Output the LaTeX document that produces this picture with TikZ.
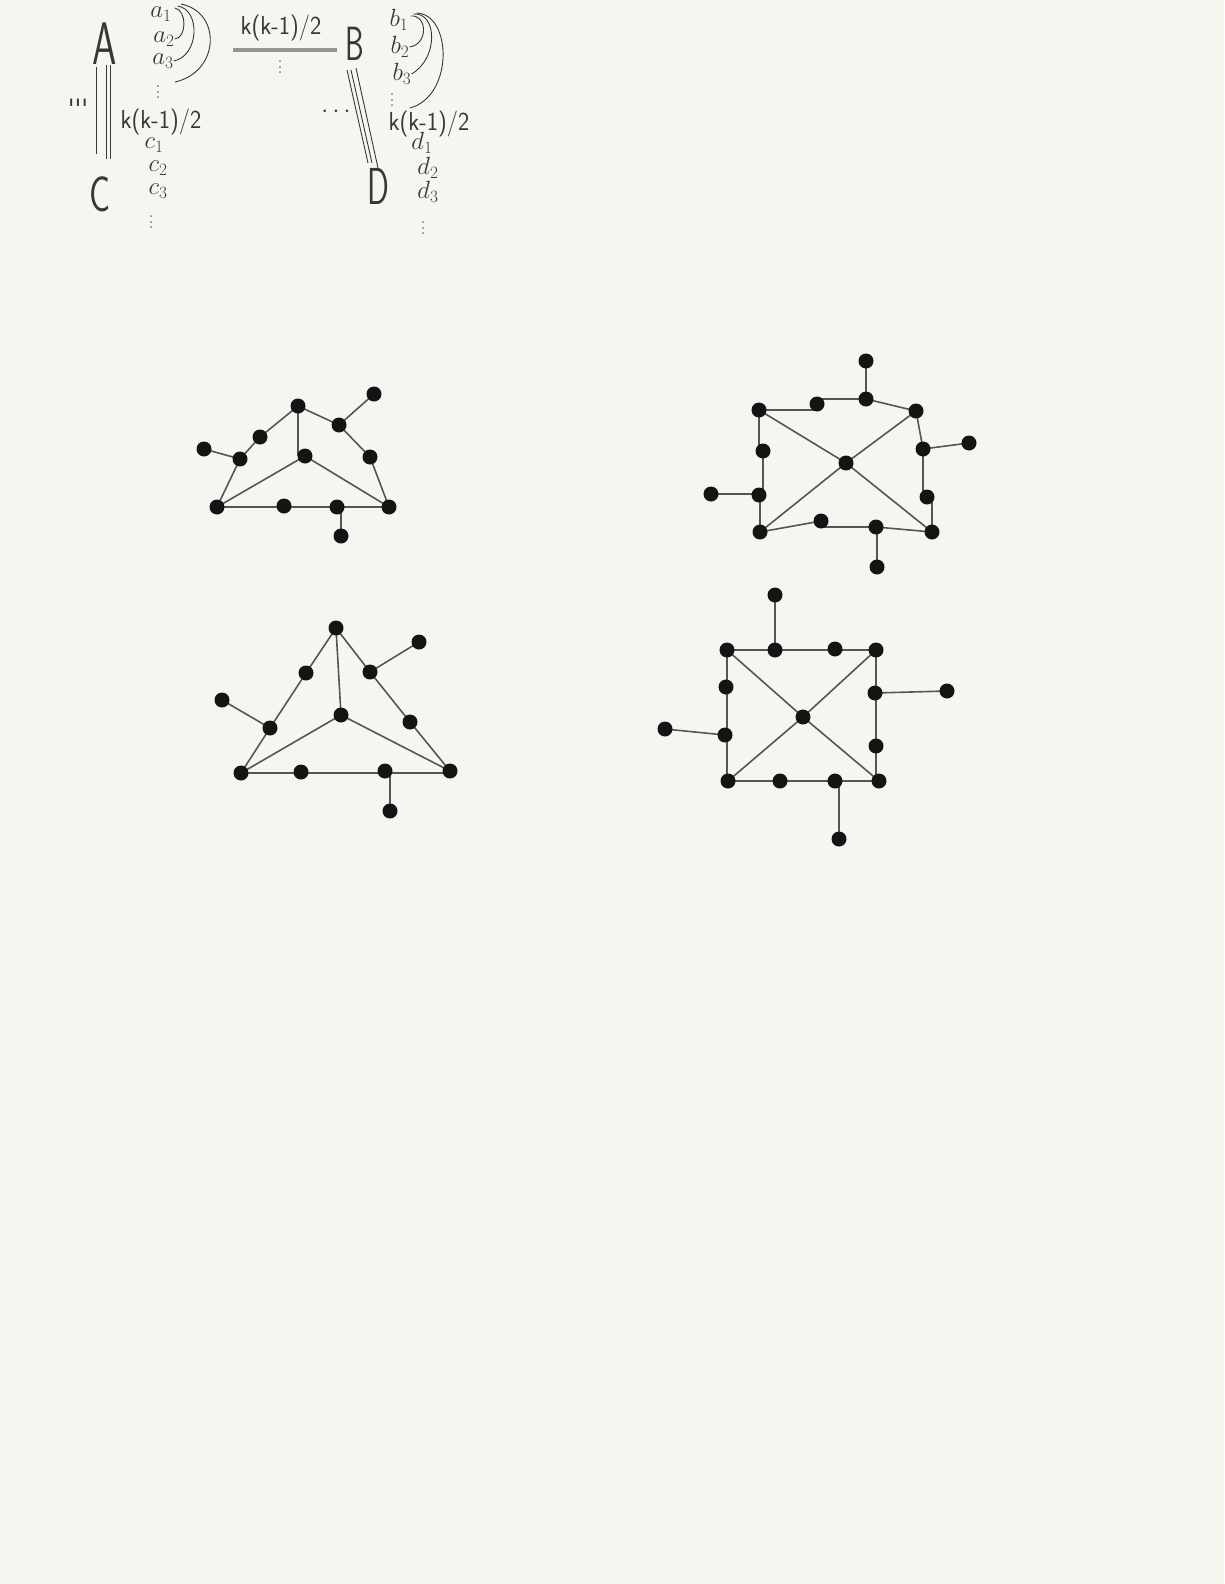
\documentclass[tikz,border=0pt]{standalone}
\usepackage{fontspec}
\definecolor{bg}{RGB}{246,246,241}
\definecolor{ink}{RGB}{55,55,55}
\definecolor{edgec}{RGB}{85,85,85}
\definecolor{dotc}{RGB}{20,20,20}
\definecolor{barc}{RGB}{150,150,145}
\pgfdeclarelayer{edges}
\pgfsetlayers{edges,main}
\begin{document}
\begin{tikzpicture}[x=1pt,y=-1pt,
  v/.style={circle,fill=dotc,inner sep=0pt,minimum size=15pt},
  e/.style={draw=edgec,line width=1.6pt},
  hw/.style={text=ink,inner sep=0pt,font=\sffamily},
  pen/.style={draw=ink,line width=0.9pt},
  big/.style={hw,font=\sffamily\fontsize{#1}{#1}\selectfont},
  lbl/.style={hw,font=\sffamily\fontsize{26}{26}\selectfont,xscale=0.92},
  sub/.style={text=ink,inner sep=0pt,font=\fontsize{23}{23}\selectfont},
  vd/.style={text=ink,inner sep=0pt,font=\fontsize{16}{16}\selectfont,yscale=1.4}]
\begin{pgfonlayer}{edges}
\fill[bg] (0,0) rectangle (1224,1584);
\end{pgfonlayer}
\useasboundingbox (0,0) rectangle (1224,1584);

% ---------------- handwritten sketch ----------------
\node[big=60,xscale=0.65] (A) at (105,44) {A};
\node[big=48,xscale=0.62] (B) at (355,44) {B};
\node[big=50,xscale=0.7] (C) at (100,194) {C};
\node[big=52,xscale=0.62] (D) at (378,186) {D};

\node[sub] (a1) at (161,14) {$a_1$};
\node[sub] (a2) at (164,39) {$a_2$};
\node[sub] (a3) at (163,61) {$a_3$};
\node[vd] (adots) at (158,88) {$\vdots$};
\node[sub] (b1) at (399,20) {$b_1$};
\node[sub] (b2) at (400,47) {$b_2$};
\node[sub] (b3) at (402,74) {$b_3$};
\node[vd] (bdots) at (392,96) {$\vdots$};
\node[sub] (c1) at (154,145) {$c_1$};
\node[sub] (c2) at (158,168) {$c_2$};
\node[sub] (c3) at (158,191) {$c_3$};
\node[vd] (cdots) at (151,218) {$\vdots$};
\node[sub] (d1) at (422,143) {$d_1$};
\node[sub] (d2) at (428,168) {$d_2$};
\node[sub] (d3) at (428,192) {$d_3$};
\node[vd] (ddots) at (423,224) {$\vdots$};

\node[lbl] (kab) at (281,28) {k(k-1)/2};
\node[lbl] (kac) at (161,122) {k(k-1)/2};
\node[lbl] (kbd) at (429,124) {k(k-1)/2};
\node[vd] (mdots) at (280,63) {$\vdots$};
\node[hw,font=\sffamily\fontsize{26}{26}\selectfont] (ticks) at (78,108) {\textquotesingle\textquotesingle\textquotesingle};
\node[sub] (hdots) at (336,112) {$\cdots$};

% arcs a
\draw[pen] (a1.east) ++(3,-6) .. controls (187,10) and (187,38) .. (a2.east);
\draw[pen] (a1.east) ++(6,-8) .. controls (201,10) and (199,56) .. (a3.east);
\draw[pen] (a1.east) ++(9,-10) .. controls (222,12) and (220,72) .. (175,82);
% arcs b
\draw[pen] (b1.east) ++(2,-4) .. controls (427,14) and (429,44) .. (b2.east);
\draw[pen] (b1.east) ++(5,-6) .. controls (437,12) and (439,58) .. (b3.east);
\draw[pen] (b1.east) ++(8,-7) .. controls (452,14) and (454,96) .. (410,108);

% A -- C triple line
\coordinate (ac1t) at (96,67); \coordinate (ac1b) at (96,154);
\coordinate (ac2t) at (106,65); \coordinate (ac2b) at (106,159);
\coordinate (ac3t) at (110,65); \coordinate (ac3b) at (110,159);
\draw[pen] (ac1t) -- (ac1b);
\draw[pen] (ac2t) -- (ac2b);
\draw[pen] (ac3t) -- (ac3b);
% B -- D triple line
\coordinate (bd1t) at (347,70); \coordinate (bd1b) at (368,163);
\coordinate (bd2t) at (351,70); \coordinate (bd2b) at (372,163);
\coordinate (bd3t) at (356,68); \coordinate (bd3b) at (378,168);
\draw[pen] (bd1t) -- (bd1b);
\draw[pen] (bd2t) -- (bd2b);
\draw[pen] (bd3t) -- (bd3b);
% A -- B thick bar
\coordinate (barl) at (233,50); \coordinate (barr) at (337,50);
\draw[barc,line width=4pt] (barl) -- (barr);

% ---------------- graph 1 ----------------
\node[v] (g1t) at (298,406) {};
\node[v] (g1tl) at (374,394) {};
\node[v] (g1r1) at (339,425) {};
\node[v] (g1r2) at (370,457) {};
\node[v] (g1l1) at (260,437) {};
\node[v] (g1l2) at (240,459) {};
\node[v] (g1ll) at (204,449) {};
\node[v] (g1c) at (305,456) {};
\node[v] (g1bl) at (217,507) {};
\node[v] (g1b1) at (284,506) {};
\node[v] (g1b2) at (337,507) {};
\node[v] (g1br) at (389,507) {};
\node[v] (g1bb) at (341,536) {};
\begin{pgfonlayer}{edges}
\draw[e] (g1bl.center) -- (g1l2.center) -- (g1l1.center) -- (g1t.center) -- (g1r1.center) -- (g1r2.center) -- (g1br.center);
\draw[e] (g1l2.center) -- (g1ll.center);
\draw[e] (g1r1.center) -- (g1tl.center);
\draw[e] (g1t.center) -- (g1t.center |- g1c.center);
\draw[e] (g1c.center) -- (g1bl.center);
\draw[e] (g1c.center) -- (g1br.center);
\draw[e] (g1bl.center) -- (g1br.center);
\draw[e] (g1bb.center |- g1b2.center) -- (g1bb.center);
\end{pgfonlayer}

% ---------------- graph 2 ----------------
\node[v] (g2tt) at (866,361) {};
\node[v] (g2t2) at (866,399) {};
\node[v] (g2t1) at (817,404) {};
\node[v] (g2tl) at (759,410) {};
\node[v] (g2tr) at (916,411) {};
\node[v] (g2r1) at (923,449) {};
\node[v] (g2rr) at (969,443) {};
\node[v] (g2r2) at (927,497) {};
\node[v] (g2br) at (932,532) {};
\node[v] (g2b2) at (876,527) {};
\node[v] (g2b1) at (821,521) {};
\node[v] (g2bl) at (760,532) {};
\node[v] (g2bb) at (877,567) {};
\node[v] (g2l2) at (759,495) {};
\node[v] (g2ll) at (711,494) {};
\node[v] (g2l1) at (763,451) {};
\node[v] (g2c) at (846,463) {};
\begin{pgfonlayer}{edges}
\draw[e] (g2tl.center) -- (g2tl.center -| g2t1.center);
\draw[e] (g2t1.center |- g2t2.center) -- (g2t2.center);
\draw[e] (g2t2.center) -- (g2tr.center) -- (g2r1.center);
\draw[e] (g2r1.center) -- (g2r1.center |- g2r2.center);
\draw[e] (g2br.center |- g2r2.center) -- (g2br.center);
\draw[e] (g2br.center) -- (g2b2.center);
\draw[e] (g2b2.center) -- (g2b2.center -| g2b1.center);
\draw[e] (g2b1.center) -- (g2bl.center);
\draw[e] (g2bl.center) -- (g2bl.center |- g2l2.center);
\draw[e] (g2l1.center) -- (g2l1.center |- g2l2.center);
\draw[e] (g2tl.center) -- (g2tl.center |- g2l1.center);
\draw[e] (g2t2.center) -- (g2tt.center);
\draw[e] (g2r1.center) -- (g2rr.center);
\draw[e] (g2bb.center |- g2b2.center) -- (g2bb.center);
\draw[e] (g2ll.center) -- (g2ll.center -| g2l2.center);
\draw[e] (g2tl.center) -- (g2c.center) -- (g2br.center);
\draw[e] (g2tr.center) -- (g2c.center) -- (g2bl.center);
\end{pgfonlayer}

% ---------------- graph 3 ----------------
\node[v] (g3t) at (336,628) {};
\node[v] (g3tr) at (419,642) {};
\node[v] (g3r1) at (370,672) {};
\node[v] (g3r2) at (410,722) {};
\node[v] (g3l1) at (306,673) {};
\node[v] (g3l2) at (270,728) {};
\node[v] (g3ll) at (222,700) {};
\node[v] (g3c) at (341,715) {};
\node[v] (g3bl) at (241,773) {};
\node[v] (g3b1) at (301,772) {};
\node[v] (g3b2) at (385,771) {};
\node[v] (g3br) at (450,771) {};
\node[v] (g3bb) at (390,811) {};
\begin{pgfonlayer}{edges}
\draw[e] (g3bl.center) -- (g3l2.center) -- (g3l1.center) -- (g3t.center) -- (g3r1.center) -- (g3r2.center) -- (g3br.center);
\draw[e] (g3l2.center) -- (g3ll.center);
\draw[e] (g3r1.center) -- (g3tr.center);
\draw[e] (g3t.center) -- (g3c.center);
\draw[e] (g3c.center) -- (g3bl.center);
\draw[e] (g3c.center) -- (g3br.center);
\draw[e] (g3bl.center) -- (g3bl.center -| g3br.center);
\draw[e] (g3bb.center |- g3b2.center) -- (g3bb.center);
\end{pgfonlayer}

% ---------------- graph 4 ----------------
\node[v] (g4tt) at (775,595) {};
\node[v] (g4t1) at (775,650) {};
\node[v] (g4t2) at (835,649) {};
\node[v] (g4tl) at (727,650) {};
\node[v] (g4tr) at (876,650) {};
\node[v] (g4r1) at (875,693) {};
\node[v] (g4rr) at (947,691) {};
\node[v] (g4r2) at (876,746) {};
\node[v] (g4br) at (879,781) {};
\node[v] (g4b2) at (835,781) {};
\node[v] (g4b1) at (780,781) {};
\node[v] (g4bl) at (728,781) {};
\node[v] (g4bb) at (839,839) {};
\node[v] (g4l1) at (726,687) {};
\node[v] (g4l2) at (725,735) {};
\node[v] (g4ll) at (665,729) {};
\node[v] (g4c) at (803,717) {};
\begin{pgfonlayer}{edges}
\draw[e] (g4tl.center) -- (g4tl.center -| g4tr.center);
\draw[e] (g4tr.center) -- (g4tr.center |- g4br.center);
\draw[e] (g4bl.center) -- (g4bl.center -| g4br.center);
\draw[e] (g4tl.center) -- (g4tl.center |- g4bl.center);
\draw[e] (g4t1.center) -- (g4tt.center);
\draw[e] (g4r1.center) -- (g4rr.center);
\draw[e] (g4bb.center |- g4b2.center) -- (g4bb.center);
\draw[e] (g4l2.center) -- (g4ll.center);
\draw[e] (g4tl.center) -- (g4c.center) -- (g4br.center);
\draw[e] (g4tr.center) -- (g4c.center) -- (g4bl.center);
\end{pgfonlayer}
\end{tikzpicture}
\end{document}
